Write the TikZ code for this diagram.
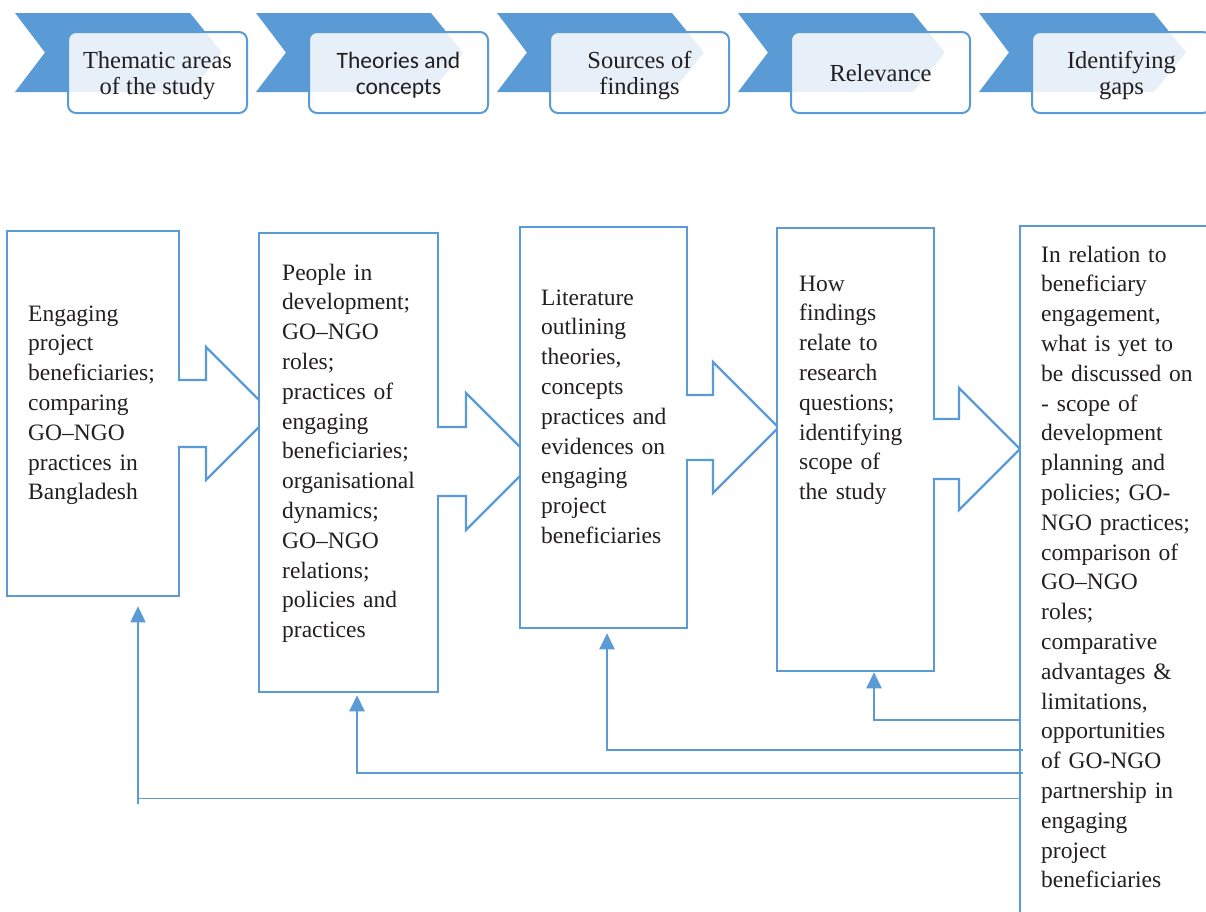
\documentclass[tikz,border=0pt]{standalone}
\usepackage{fontspec}
\setmainfont{Liberation Serif}
\newfontfamily\calibfont{Carlito}
\usetikzlibrary{arrows.meta}
\definecolor{bl}{HTML}{5B9BD5}
\definecolor{txt}{HTML}{231F20}
\begin{document}
\begin{tikzpicture}[x=1pt,y=-1pt,
  toprect/.style={draw=bl, line width=2pt, fill=white, fill opacity=0.86, rounded corners=8pt, minimum width=179pt, minimum height=81pt, inner sep=0pt},
  toptext/.style={text=txt, align=center, inner sep=0pt, font=\fontsize{24.5}{26}\selectfont},
  mainbox/.style={draw=bl, line width=2.5pt, fill=white, inner sep=0pt},
  maintext/.style={text=txt, inner sep=0pt, text width=185pt, align=left, anchor=base west, font=\fontsize{23.5}{29.8}\selectfont},
  arrowline/.style={draw=bl, line width=2.2pt, line join=miter},
  fb/.style={draw=bl, line width=2pt, -{Triangle[width=15pt,length=16pt]}},
  thinfb/.style={draw=bl, line width=1.4pt, -{Triangle[width=15pt,length=16pt]}}
]
\useasboundingbox (0,0) rectangle (1206,911);
\clip (0,0) rectangle (1206,911);
\fill[white] (0,0) rectangle (1206,911);

% top chevrons
\foreach \i [evaluate=\i as \x using 241*\i] in {0,...,4}{
  \fill[bl] ({\x+15},13) -- ({\x+190},13) -- ({\x+222},52.5) -- ({\x+190},92) -- ({\x+15},92) -- ({\x+45},52.5) -- cycle;
}
\node[toprect] (r1) at (157.5,72.5) {};
\node[toprect] (r2) at (398.5,72.5) {};
\node[toprect] (r3) at (639.5,72.5) {};
\node[toprect] (r4) at (880.5,72.5) {};
\node[toprect] (r5) at (1121.5,72.5) {};
\node[toptext] (l1) at (r1.center) [yshift=-3.5pt] {Thematic areas\\of the study};
\node[toptext, font=\calibfont\fontsize{23.5}{26}\selectfont] (l2) at (r2.center) [yshift=-3pt] {Theories and\\concepts};
\node[toptext] (l3) at (r3.center) [yshift=-3.5pt] {Sources of\\findings};
\node[toptext] (l4) at (r4.center) [yshift=-1pt] {Relevance};
\node[toptext] (l5) at (r5.center) [yshift=-3.5pt] {Identifying\\gaps};

% main boxes and block arrows
\node[mainbox, minimum width=172pt, minimum height=365pt] (b1) at (93,413.5) {};
\fill[white] (176,380) -- (206,380) -- (206,347) -- (272.5,413.5) -- (206,480) -- (206,447) -- (176,447) -- cycle;
\draw[arrowline] (177.8,380) -- (206,380) -- (206,347) -- (272.5,413.5) -- (206,480) -- (206,447) -- (177.8,447);

\node[mainbox, minimum width=179pt, minimum height=459pt] (b2) at (348.5,462.5) {};
\fill[white] (435,427) -- (466,427) -- (466,393) -- (534.5,461.5) -- (466,530) -- (466,496) -- (435,496) -- cycle;
\draw[arrowline] (436.8,427) -- (466,427) -- (466,393) -- (534.5,461.5) -- (466,530) -- (466,496) -- (436.8,496);

\node[mainbox, minimum width=167pt, minimum height=401pt] (b3) at (603.5,427.5) {};
\fill[white] (684,395) -- (713,395) -- (713,362) -- (778.5,427.5) -- (713,493) -- (713,460) -- (684,460) -- cycle;
\draw[arrowline] (685.8,395) -- (713,395) -- (713,362) -- (778.5,427.5) -- (713,493) -- (713,460) -- (685.8,460);

\node[mainbox, minimum width=157pt, minimum height=443pt] (b4) at (855.5,449.5) {};
\fill[white] (931,419) -- (959,419) -- (959,388) -- (1020,449) -- (959,510) -- (959,479) -- (931,479) -- cycle;
\draw[arrowline] (932.8,419) -- (959,419) -- (959,388) -- (1020,449) -- (959,510) -- (959,479) -- (932.8,479);

\node[mainbox, minimum width=240pt, minimum height=734pt] (b5) at (1140,593) {};

% texts
\node[maintext] (t1) at (28,321) {Engaging\\project\\beneficiaries;\\comparing\\GO–NGO\\practices in\\Bangladesh};
\node[maintext] (t2) at (282,280) {People in\\development;\\GO–NGO\\roles;\\practices of\\engaging\\beneficiaries;\\organisational\\dynamics;\\GO–NGO\\relations;\\policies and\\practices};
\node[maintext] (t3) at (541,305) {Literature\\outlining\\theories,\\concepts\\practices and\\evidences on\\engaging\\project\\beneficiaries};
\node[maintext] (t4) at (799,291) {How\\findings\\relate to\\research\\questions;\\identifying\\scope of\\the study};
\node[maintext] (t5) at (1041,262) {In relation to\\beneficiary\\engagement,\\what is yet to\\be discussed on\\- scope of\\development\\planning and\\policies; GO-\\NGO practices;\\comparison of\\GO–NGO\\roles;\\comparative\\advantages \&\\limitations,\\opportunities\\of GO-NGO\\partnership in\\engaging\\project\\beneficiaries};

% feedback connectors
\coordinate (f4) at (1020,720);
\coordinate (f3) at (1023,750);
\coordinate (f2) at (1023,773);
\coordinate (f1) at (1020,798.5);
\draw[fb] (f4) -| ([xshift=18.5pt]b4.south);
\draw[fb, shorten >=4pt] (f3) -| ([xshift=3.5pt]b3.south);
\draw[fb, shorten >=2pt] (f2) -| ([xshift=8.5pt]b2.south);
\draw[thinfb, shorten >=9pt] (f1) -| ([xshift=45pt]b1.south);
\draw[draw=bl, line width=1.4pt] ([xshift=45pt]b1.south |- f1) -- ++(0,5);
\end{tikzpicture}
\end{document}
